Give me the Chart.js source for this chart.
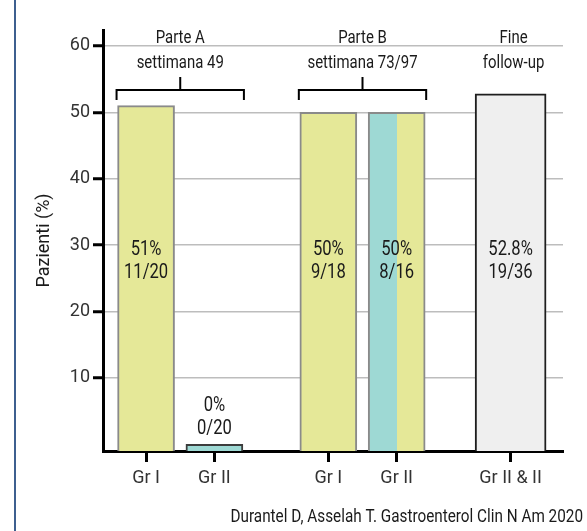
<!DOCTYPE html>
<html><head><meta charset="utf-8">
<script src="https://cdn.jsdelivr.net/npm/chart.js@4/dist/chart.umd.min.js"></script>
<style>html,body{margin:0;padding:0;background:#fff;} #wrap{width:587px;height:531px;position:relative;}</style>
</head><body><div id="wrap"><canvas id="c" width="587" height="531"></canvas></div>
<script>
// ---- data ----
const categories = ['Gr I', 'Gr II', 'Gr I', 'Gr II', 'Gr II & II'];
const percentValues = [51, 0, 50, 50, 52.8];
const percentLabels = ['51%', '0%', '50%', '50%', '52.8%'];
const fractionLabels = ['11/20', '0/20', '9/18', '8/16', '19/36'];
const groupTitles = ['Parte A', 'Parte B', 'Fine'];
const groupSubtitles = ['settimana 49', 'settimana 73/97', 'follow-up'];
const groupMembers = [[0, 1], [2, 3], [4]];
const yTickValues = [10, 20, 30, 40, 50, 60];
const yAxisTitle = 'Pazienti (%)';
const sourceNote = 'Durantel D, Asselah T. Gastroenterol Clin N Am 2020';

// ---- layout / style (not data) ----
const slotPos = [0, 3, 8, 11, 16];
const FONT = "Roboto, 'Liberation Sans', Arial, sans-serif";
const YELLOW = '#E5E898', TEAL = '#9ED9D4', LIGHT = '#EFEFEF';
const fills = [YELLOW, TEAL, YELLOW, 'split', LIGHT];
const borders = ['#8a8a8a', '#3c3c3c', '#8a8a8a', '#8a8a8a', '#1e1e1e'];
const narrowIdx = [0, 1, 2, 3], wideIdx = [4];

function fillFor(c, i) {
  if (fills[i] !== 'split') return fills[i];
  const xs = c.chart.scales && c.chart.scales.x;
  if (!xs) return YELLOW;
  const cx = xs.getPixelForValue(slotPos[i]);
  const g = c.chart.ctx.createLinearGradient(cx - 28.5, 0, cx + 28.5, 0);
  g.addColorStop(0, TEAL); g.addColorStop(0.5, TEAL);
  g.addColorStop(0.5, YELLOW); g.addColorStop(1, YELLOW);
  return g;
}

function makeDataset(idxs, thickness) {
  return {
    data: idxs.map(i => ({ x: slotPos[i], y: percentValues[i] })),
    barThickness: thickness,
    base: -1,
    borderWidth: 2,
    borderSkipped: 'start',
    backgroundColor: c => fillFor(c, idxs[c.dataIndex]),
    borderColor: c => borders[idxs[c.dataIndex]],
    _idx: idxs
  };
}

function txt(ctx, s, x, y, k, align) {
  ctx.save();
  ctx.translate(x, y);
  ctx.scale(k, 1);
  ctx.textAlign = align || 'center';
  ctx.textBaseline = 'middle';
  ctx.fillText(s, 0, 0);
  ctx.restore();
}

const annot = {
  id: 'annot',
  beforeDraw(chart) {
    const ctx = chart.ctx;
    ctx.save();
    ctx.fillStyle = '#fff';
    ctx.fillRect(0, 0, chart.width, chart.height);
    ctx.strokeStyle = '#3d5f8f';
    ctx.lineWidth = 2;
    ctx.beginPath(); ctx.moveTo(15, 0); ctx.lineTo(15, chart.height); ctx.stroke();
    ctx.restore();
  },
  afterDatasetsDraw(chart) {
    const ctx = chart.ctx;
    const ys = chart.scales.y;
    const top = chart.chartArea.top;
    const els = [];
    chart.data.datasets.forEach((ds, d) => {
      chart.getDatasetMeta(d).data.forEach((el, j) => { els[ds._idx[j]] = el; });
    });
    ctx.save();
    ctx.fillStyle = '#1a1a1a';
    ctx.font = '20px ' + FONT;
    els.forEach((el, i) => {
      let y1, y2;
      if (percentValues[i] < 10) { y1 = el.y - 38; y2 = el.y - 15; }
      else { y1 = ys.getPixelForValue(29.3); y2 = y1 + 23; }
      txt(ctx, percentLabels[i], el.x, y1, 0.83);
      txt(ctx, fractionLabels[i], el.x, y2, 0.83);
    });
    ctx.font = '18px ' + FONT;
    groupMembers.forEach((m, g) => {
      const a = els[m[0]], b = els[m[m.length - 1]];
      const left = a.x - a.width / 2 - 1, right = b.x + b.width / 2 + 1;
      const cx = m.length > 1 ? (left + right) / 2 : a.x + 3;
      ctx.fillStyle = '#1a1a1a';
      txt(ctx, groupTitles[g], cx, top + 8, 0.83);
      txt(ctx, groupSubtitles[g], cx, top + 33, 0.83);
      if (m.length > 1) {
        ctx.strokeStyle = '#000';
        ctx.lineWidth = 2;
        ctx.beginPath();
        ctx.moveTo(left, top + 70); ctx.lineTo(left, top + 60);
        ctx.lineTo(right, top + 60); ctx.lineTo(right, top + 70);
        ctx.moveTo(cx, top + 60); ctx.lineTo(cx, top + 47);
        ctx.stroke();
      }
    });
    ctx.restore();
  },
  afterDraw(chart) {
    const ctx = chart.ctx;
    ctx.save();
    ctx.font = '19px ' + FONT;
    ctx.fillStyle = '#1a1a1a';
    txt(ctx, sourceNote, 583, 517, 0.805, 'right');
    ctx.restore();
  }
};

new Chart(document.getElementById('c'), {
  type: 'bar',
  data: { datasets: [makeDataset(narrowIdx, 57), makeDataset(wideIdx, 71)] },
  options: {
    responsive: false,
    animation: false,
    devicePixelRatio: 1,
    layout: { padding: { top: 30, right: 24, bottom: 0, left: 0 } },
    plugins: { legend: { display: false }, tooltip: { enabled: false }, title: { display: false } },
    scales: {
      x: {
        type: 'linear',
        stacked: true,
        offset: false,
        min: -1.89, max: 18.3,
        afterBuildTicks: s => { s.ticks = slotPos.map(v => ({ value: v })); },
        afterFit: s => { s.height = 80; },
        ticks: {
          autoSkip: false, maxRotation: 0, padding: 6,
          color: '#333', font: { family: FONT, size: 18 },
          callback: (v, i) => categories[i]
        },
        grid: { offset: false, drawOnChartArea: false, tickLength: 11, tickColor: '#000', tickWidth: 3 },
        border: { color: '#000', width: 3 }
      },
      y: {
        stacked: false,
        min: -1, max: 62.4,
        afterBuildTicks: s => { s.ticks = yTickValues.map(v => ({ value: v })); },
        afterFit: s => { s.width = 103; },
        ticks: { padding: 3, color: '#333', font: { family: FONT, size: 18 } },
        grid: { color: '#bdbdbd', lineWidth: 1.5, tickLength: 10, tickColor: '#000', tickWidth: 3 },
        border: { color: '#000', width: 3 },
        title: { display: true, text: yAxisTitle, color: '#1a1a1a', font: { family: FONT, size: 18 }, padding: { top: 34, bottom: 0 } }
      }
    }
  },
  plugins: [annot]
});
</script>
</body></html>
